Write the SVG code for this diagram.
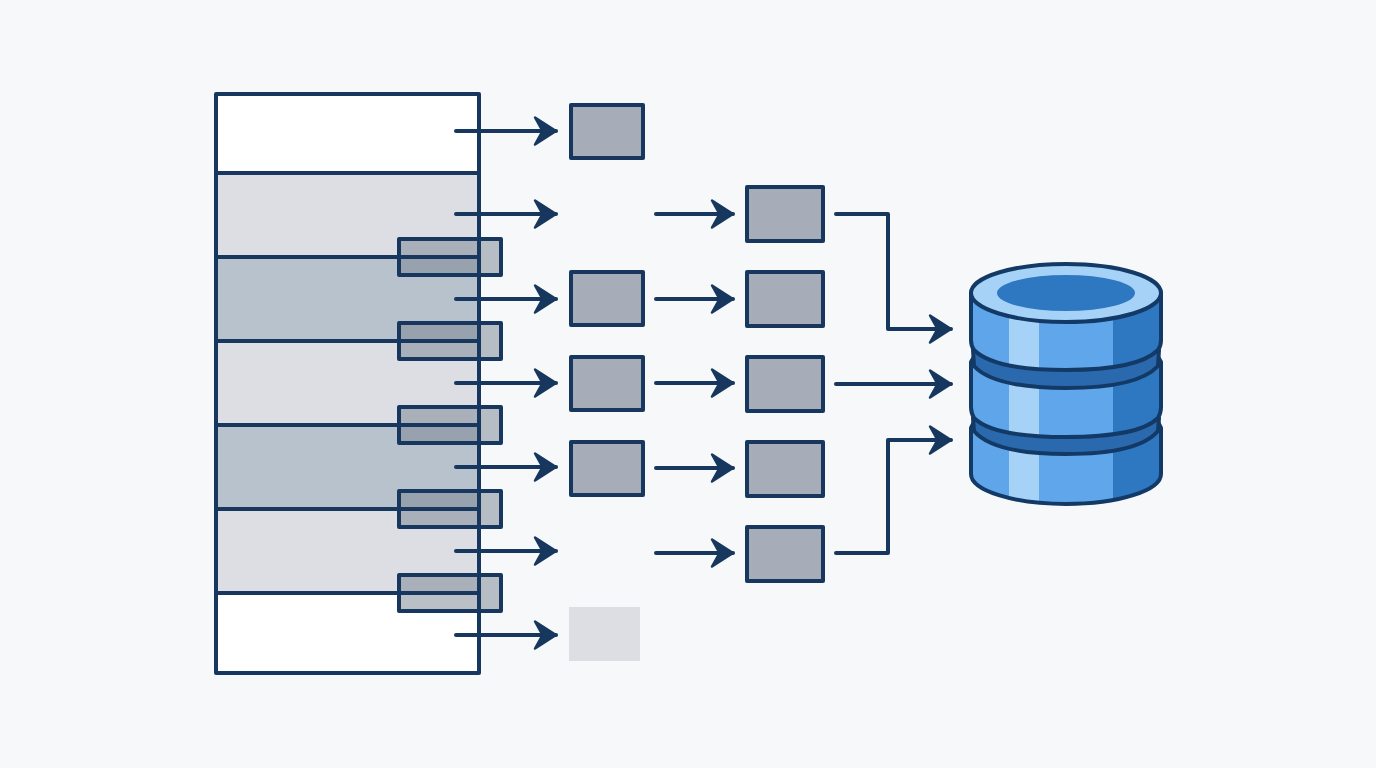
<svg xmlns="http://www.w3.org/2000/svg" width="1376" height="768" viewBox="0 0 1376 768">
<style>
.ln{fill:none;stroke:#17375e;stroke-width:4;stroke-linecap:round;stroke-linejoin:round}
.conn{fill:none;stroke:#17375e;stroke-width:4;stroke-linecap:round;stroke-linejoin:round;marker-end:url(#ah)}
.box{fill:#a7adb8;stroke:#17375e;stroke-width:4;stroke-linejoin:round}
.ov{fill:#77828f;fill-opacity:.5;stroke:#17375e;stroke-width:4;stroke-linejoin:round}
.cy{stroke:#133a66;stroke-width:4;stroke-linejoin:round}
</style>
<defs>
<marker id="ah" markerUnits="userSpaceOnUse" markerWidth="30" markerHeight="34" refX="21" refY="15" orient="auto" overflow="visible">
<path d="M0,1.500L21,15L0,28.500L7.500,15Z" fill="#17375e" stroke="#17375e" stroke-width="2.500" stroke-linejoin="round"/>
</marker>
<linearGradient id="body" gradientUnits="userSpaceOnUse" x1="971" y1="0" x2="1161" y2="0">
<stop offset="0" stop-color="#5ea5ea"/><stop offset=".2" stop-color="#5ea5ea"/>
<stop offset=".2" stop-color="#a6d2f8"/><stop offset=".36" stop-color="#a6d2f8"/>
<stop offset=".36" stop-color="#5fa6eb"/><stop offset=".745" stop-color="#5fa6eb"/>
<stop offset=".745" stop-color="#2e78c2"/><stop offset="1" stop-color="#2e78c2"/>
</linearGradient>
</defs>
<rect id="background" width="1376" height="768" fill="#f6f8f9"/>
<g id="table">
<rect x="216" y="94" width="263" height="79" fill="#ffffff"/>
<rect x="216" y="173" width="263" height="84" fill="#dcdee3"/>
<rect x="216" y="257" width="263" height="84" fill="#b8c2cd"/>
<rect x="216" y="341" width="263" height="84" fill="#dcdee3"/>
<rect x="216" y="425" width="263" height="84" fill="#b8c2cd"/>
<rect x="216" y="509" width="263" height="84" fill="#dcdee3"/>
<rect x="216" y="593" width="263" height="80" fill="#ffffff"/>
</g>
<g id="overlaps">
<rect class="ov" x="399" y="239" width="102" height="36"/>
<rect class="ov" x="399" y="323" width="102" height="36"/>
<rect class="ov" x="399" y="407" width="102" height="36"/>
<rect class="ov" x="399" y="491" width="102" height="36"/>
<rect class="ov" x="399" y="575" width="102" height="36"/>
</g>
<g id="table-lines">
<path class="ln" d="M216,173H479M216,257H479M216,341H479M216,425H479M216,509H479M216,593H479"/>
<rect class="ln" x="216" y="94" width="263" height="579"/>
</g>
<g id="col1-1"><rect class="box" x="571" y="105" width="72" height="53"/></g>
<g id="col1-2"><rect class="box" x="571" y="272" width="72" height="53"/></g>
<g id="col1-3"><rect class="box" x="571" y="357" width="72" height="53"/></g>
<g id="col1-4"><rect class="box" x="571" y="442" width="72" height="53"/></g>
<g id="col1-5"><rect x="569" y="607" width="71" height="54" fill="#dcdee3"/></g>
<g id="col2-1"><rect class="box" x="747" y="187" width="76" height="54"/></g>
<g id="col2-2"><rect class="box" x="747" y="272" width="76" height="54"/></g>
<g id="col2-3"><rect class="box" x="747" y="357" width="76" height="54"/></g>
<g id="col2-4"><rect class="box" x="747" y="442" width="76" height="54"/></g>
<g id="col2-5"><rect class="box" x="747" y="527" width="76" height="54"/></g>
<g id="connectors">
<path class="conn" d="M456,131H556"/>
<path class="conn" d="M456,214H556"/>
<path class="conn" d="M456,299H556"/>
<path class="conn" d="M456,383H556"/>
<path class="conn" d="M456,467H556"/>
<path class="conn" d="M456,551H556"/>
<path class="conn" d="M456,635H556"/>
<path class="conn" d="M656,214H733"/>
<path class="conn" d="M656,299H733"/>
<path class="conn" d="M656,383H733"/>
<path class="conn" d="M656,468H733"/>
<path class="conn" d="M656,553H733"/>
<path class="conn" d="M836,214H888V329H951"/>
<path class="conn" d="M836,384H951"/>
<path class="conn" d="M836,553H888V440H951"/>
</g>
<g id="database">
<path class="cy" fill="url(#body)" d="M975,420L971,428V474C971,490.500 1013.500,504 1066,504S1161,490.500 1161,474V428L1157,420Z"/>
<path class="cy" fill="#2a69ad" d="M973,418L974,431C985,444 1010,454 1066,454S1147,444 1158,431L1159,418Z"/>
<path class="cy" fill="url(#body)" d="M975,355L971,362V407Q971,413 974,418C985,429 1010,437 1066,437S1147,429 1158,418Q1161,413 1161,407V362L1157,355Z"/>
<path class="cy" fill="#2a69ad" d="M973,350L974,366C985,378 1010,388 1066,388S1147,378 1158,366L1159,350Z"/>
<path class="cy" fill="url(#body)" d="M971,293V340Q971,346 974,350C985,361 1010,370 1066,370S1147,361 1158,350Q1161,346 1161,340V293Z"/>
<ellipse class="cy" cx="1066" cy="293" rx="95" ry="29" fill="#a6d2f8"/>
<ellipse cx="1066" cy="293" rx="69" ry="18" fill="#2e78c2"/>
</g>
</svg>
